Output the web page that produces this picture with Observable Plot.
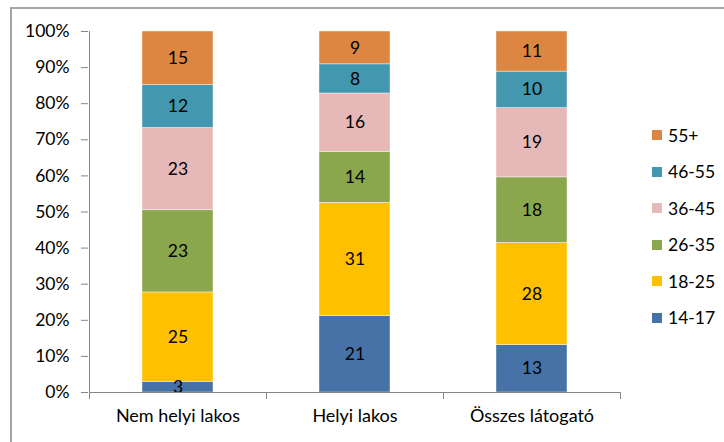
<!DOCTYPE html>
<html>
<head>
<meta charset="utf-8">
<script src="https://cdn.jsdelivr.net/npm/d3@7"></script>
<script src="https://cdn.jsdelivr.net/npm/@observablehq/plot@0.6"></script>
<style>
  html, body { margin: 0; padding: 0; background: #fff; }
  #wrap { position: relative; width: 724px; height: 442px; overflow: hidden; font-family: Lato, "Open Sans", sans-serif; }
  #frame { position: absolute; left: 10px; top: 7px; width: 800px; height: 500px; border-top: 2px solid #a6a6a6; border-left: 2px solid #a6a6a6; box-sizing: border-box; }
  #legend { position: absolute; left: 652px; top: 117px; font-size: 17.5px; color: #000; }
  #legend .row { display: flex; align-items: center; height: 36.5px; }
  #legend .sw { width: 10px; height: 10px; margin-right: 6px; }
  svg { position: absolute; left: 0; top: 0; }
</style>
</head>
<body>
<div id="wrap"><div id="frame"></div></div>
<script>
const groups = ["Nem helyi lakos", "Helyi lakos", "Összes látogató"];
const ageBands = ["14-17", "18-25", "26-35", "36-45", "46-55", "55+"];
const colors = ["#4672a8", "#ffc000", "#8ba74e", "#e6b9b8", "#4397ae", "#dd8642"];
const valNemHelyi = [3, 25, 23, 23, 12, 15];
const valHelyi = [21, 31, 14, 16, 8, 9];
const valOsszes = [13, 28, 18, 19, 10, 11];
const yTicks = [0, 0.1, 0.2, 0.3, 0.4, 0.5, 0.6, 0.7, 0.8, 0.9, 1];

const series = [valNemHelyi, valHelyi, valOsszes];
const data = [];
groups.forEach((g, gi) => ageBands.forEach((a, ai) => data.push({group: g, age: a, value: series[gi][ai]})));

const axisLines = (index, scales, values, dimensions) => {
  const x = scales.x, y = scales.y;
  const step = x(groups[1]) - x(groups[0]);
  const bw = x.bandwidth ? x.bandwidth() : 0;
  const y0 = y(0), y1 = y(1);
  const g = d3.create("svg:g").attr("stroke", "#868686").attr("fill", "none");
  const xs = groups.map(d => Math.round(x(d) + bw / 2 - step / 2) + 0.5);
  xs.push(Math.round(x(groups[groups.length - 1]) + bw / 2 + step / 2) + 0.5);
  g.append("line").attr("x1", xs[0]).attr("x2", xs[0]).attr("y1", y1).attr("y2", y0);
  g.append("line").attr("x1", xs[0]).attr("x2", xs[xs.length - 1]).attr("y1", Math.round(y0) + 0.5).attr("y2", Math.round(y0) + 0.5);
  xs.forEach(v => g.append("line").attr("x1", v).attr("x2", v).attr("y1", y0).attr("y2", y0 + 7));
  return g.node();
};

const chart = Plot.plot({
  width: 724,
  height: 442,
  marginLeft: 88,
  marginRight: 104,
  marginTop: 31,
  marginBottom: 50,
  style: {fontFamily: "Lato, 'Open Sans', sans-serif", fontSize: "17px", color: "#000", background: "transparent"},
  x: {domain: groups, paddingInner: 0.6, paddingOuter: 0.3, label: null},
  y: {domain: [0, 1], label: null},
  color: {domain: ageBands, range: colors},
  marks: [
    Plot.barY(data, Plot.stackY({offset: "normalize", x: "group", y: "value", fill: "age", order: ageBands, stroke: "#fff", strokeWidth: 0.7, strokeOpacity: 0.6})),
    Plot.text(data, Plot.stackY({offset: "normalize", x: "group", y: "value", z: "age", order: ageBands, text: d => String(d.value), fill: "#000", fontSize: 17.5})),
    Plot.axisY({ticks: yTicks, tickFormat: d => Math.round(d * 100) + "%", tickSize: 7, tickPadding: 12, stroke: "#868686", fontSize: 17.5, label: null}),
    Plot.axisX({tickSize: 0, tickPadding: 17, fontSize: 18, label: null}),
    axisLines
  ]
});
document.getElementById("wrap").appendChild(chart);

const legend = document.createElement("div");
legend.id = "legend";
ageBands.slice().reverse().forEach(a => {
  const row = document.createElement("div");
  row.className = "row";
  const sw = document.createElement("div");
  sw.className = "sw";
  sw.style.background = colors[ageBands.indexOf(a)];
  const t = document.createElement("span");
  t.textContent = a;
  row.appendChild(sw); row.appendChild(t);
  legend.appendChild(row);
});
document.getElementById("wrap").appendChild(legend);
</script>
</body>
</html>
